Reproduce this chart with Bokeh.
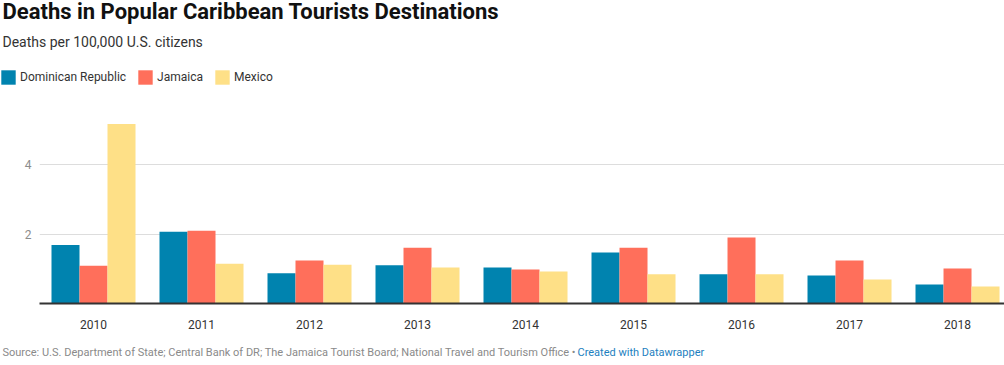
from bokeh.plotting import figure
from bokeh.layouts import column
from bokeh.models import (ColumnDataSource, Range1d, FixedTicker, Legend, LegendItem, Label)
from bokeh.transform import dodge
from bokeh.embed import file_html
from bokeh.resources import INLINE

years = [2010, 2011, 2012, 2013, 2014, 2015, 2016, 2017, 2018]
dominican_republic = [1.69, 2.07, 0.87, 1.10, 1.04, 1.47, 0.84, 0.81, 0.55]
jamaica = [1.09, 2.10, 1.24, 1.61, 0.98, 1.61, 1.90, 1.24, 1.01]
mexico = [5.18, 1.15, 1.12, 1.04, 0.92, 0.84, 0.84, 0.69, 0.49]
series_names = ["Dominican Republic", "Jamaica", "Mexico"]
y_ticks = [2, 4]

colors = ["#0083af", "#ff6f5b", "#fee087"]
FONT = "Roboto"
W = 1004
H_HEAD, H_MAIN, H_FOOT = 96, 242, 27

src = ColumnDataSource(dict(year=years, dr=dominican_republic, jm=jamaica, mx=mexico))
series_cols = ["dr", "jm", "mx"]


def bare(h):
    f = figure(width=W, height=h, output_backend="svg", toolbar_location=None,
               title_location=None, x_axis_type=None, y_axis_type=None,
               x_range=Range1d(0, 1), y_range=Range1d(0, 1),
               min_border=0, outline_line_color=None, frame_align=False,
               background_fill_color="white", border_fill_color="white")
    f.grid.visible = False
    return f


# ---------- header: title, subtitle, legend ----------
head = bare(H_HEAD)
head.add_layout(Label(x=2, y=H_HEAD - 18.7 + 8.0, x_units="screen", y_units="screen",
                      text="Deaths in Popular Caribbean Tourists Destinations",
                      text_font=FONT, text_font_style="bold", text_font_size="22px",
                      text_color="#111111", text_baseline="alphabetic"))
head.add_layout(Label(x=2, y=H_HEAD - 45.7 + 4.5, x_units="screen", y_units="screen",
                      text="Deaths per 100,000 U.S. citizens",
                      text_font=FONT, text_font_size="14px",
                      text_color="#333333", text_baseline="alphabetic"))
# legend keys (their bars fall outside this header's ranges, only the keys show)
proxies = [head.vbar(x="year", top=c, width=0.1, source=src, fill_color=col, line_color=None)
           for c, col in zip(series_cols, colors)]
legend = Legend(items=[LegendItem(label=n, renderers=[r]) for n, r in zip(series_names, proxies)],
                orientation="horizontal", location=(-1, H_HEAD - 86.2 + 0.5),
                padding=0, margin=0, spacing=10, label_standoff=3,
                glyph_width=18, glyph_height=18, label_height=18,
                border_line_color=None, background_fill_color=None,
                label_text_font=FONT, label_text_font_size="12px", label_text_color="#333333")
head.add_layout(legend, "center")

# ---------- main chart ----------
p = figure(width=W, height=H_MAIN, output_backend="svg", toolbar_location=None,
           title_location=None, frame_align=False,
           x_range=Range1d(2009.5, 2018.435), y_range=Range1d(0, 5.97),
           min_border_left=39, min_border_right=0, min_border_top=0, min_border_bottom=35,
           outline_line_color=None, background_fill_color="white", border_fill_color="white")

bw = 0.2593
for off, c, col in zip([-bw, 0, bw], series_cols, colors):
    p.vbar(x=dodge("year", off, range=p.x_range), top=c, width=bw, source=src,
           fill_color=col, line_color=None)

p.xaxis.ticker = FixedTicker(ticks=years)
p.xaxis.major_tick_line_color = None
p.xaxis.minor_tick_line_color = None
p.xaxis.major_tick_out = 0
p.xaxis.major_tick_in = 0
p.xaxis.minor_tick_out = 0
p.xaxis.minor_tick_in = 0
p.xaxis.axis_line_color = "#333333"
p.xaxis.axis_line_width = 2
p.xaxis.major_label_text_color = "#333333"
p.xaxis.major_label_text_font = FONT
p.xaxis.major_label_text_font_size = "12px"
p.xaxis.major_label_standoff = 16

p.yaxis.ticker = FixedTicker(ticks=y_ticks)
p.yaxis.major_tick_line_color = None
p.yaxis.minor_tick_line_color = None
p.yaxis.major_tick_out = 0
p.yaxis.major_tick_in = 0
p.yaxis.minor_tick_out = 0
p.yaxis.minor_tick_in = 0
p.yaxis.axis_line_color = None
p.yaxis.major_label_text_color = "#8c8c8c"
p.yaxis.major_label_text_font = FONT
p.yaxis.major_label_text_font_size = "12px"
p.yaxis.major_label_standoff = 8

p.xgrid.grid_line_color = None
p.ygrid.ticker = FixedTicker(ticks=y_ticks)
p.ygrid.grid_line_color = "#dddddd"
p.ygrid.grid_line_width = 1

# ---------- footer ----------
foot = bare(H_FOOT)
foot.add_layout(Label(x=2, y=13, x_units="screen", y_units="screen",
                      text="Source: U.S. Department of State; Central Bank of DR; The Jamaica Tourist Board; National Travel and Tourism Office \u2022",
                      text_font=FONT, text_font_size="11px",
                      text_color="#8a8a8a", text_baseline="alphabetic"))
foot.add_layout(Label(x=577, y=13, x_units="screen", y_units="screen",
                      text="Created with Datawrapper",
                      text_font=FONT, text_font_size="11px",
                      text_color="#1d7fc0", text_baseline="alphabetic"))

layout = column(head, p, foot, spacing=0,
                styles={"position": "absolute", "left": "0px", "top": "0px"})

open("out.html", "w").write(file_html(layout, INLINE))
